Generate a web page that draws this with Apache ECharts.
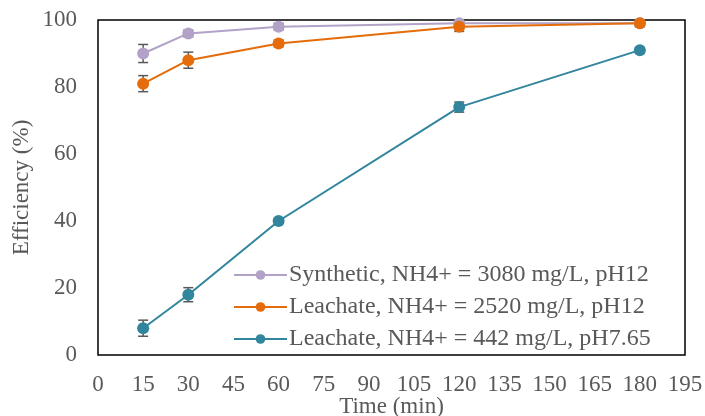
<!DOCTYPE html>
<html>
<head>
<meta charset="utf-8">
<script src="https://cdn.jsdelivr.net/npm/echarts@6/dist/echarts.min.js"></script>
<style>
  html, body { margin: 0; padding: 0; background: #fff; }
  #chart { width: 705px; height: 416px; }
</style>
</head>
<body>
<div id="chart"></div>
<script>
// data
const times = [15, 30, 60, 120, 180]
const synthetic = [90, 96, 98, 99, 99]
const syntheticErr = [2.7, 1, 1, 0.5, 0.5]
const leach2520 = [81, 88, 93, 98, 99]
const leach2520Err = [2.4, 2.4, 1, 1.4, 1]
const leach442 = [8, 18, 40, 74, 91]
const leach442Err = [2.4, 2.1, 0.8, 1.5, 0.8]
const xTicks = [0, 15, 30, 45, 60, 75, 90, 105, 120, 135, 150, 165, 180, 195]

const names = [
  'Synthetic, NH4+ = 3080 mg/L, pH12',
  'Leachate, NH4+ = 2520 mg/L, pH12',
  'Leachate, NH4+ = 442 mg/L, pH7.65'
]
const colors = ['#B3A2C7', '#E46C0A', '#31859C']
const textColor = '#595959'
const font = '"Liberation Serif", "Times New Roman", serif'
const fs = 23

function pts(vals) {
  return times.map((t, i) => [t, vals[i]])
}

// error bars as custom series
function errorBars(vals, errs) {
  return {
    type: 'custom',
    silent: true,
    z: 1,
    data: times.map((t, i) => [t, vals[i] - errs[i], vals[i] + errs[i]]),
    renderItem: (params, api) => {
      const lo = api.coord([api.value(0), api.value(1)])
      const hi = api.coord([api.value(0), api.value(2)])
      const half = 5
      const style = { stroke: textColor, lineWidth: 1.5 }
      return {
        type: 'group',
        children: [
          { type: 'line', shape: { x1: lo[0], y1: lo[1], x2: hi[0], y2: hi[1] }, style },
          { type: 'line', shape: { x1: lo[0] - half, y1: lo[1], x2: lo[0] + half, y2: lo[1] }, style },
          { type: 'line', shape: { x1: hi[0] - half, y1: hi[1], x2: hi[0] + half, y2: hi[1] }, style }
        ]
      }
    }
  }
}

function lineSeries(idx, vals) {
  return {
    name: names[idx],
    type: 'line',
    z: 2,
    data: pts(vals),
    symbol: 'circle',
    symbolSize: 12,
    lineStyle: { color: colors[idx], width: 2 },
    itemStyle: { color: colors[idx] },
    emphasis: { disabled: true }
  }
}

const chart = echarts.init(document.getElementById('chart'))

const option = {
  animation: false,
  backgroundColor: '#fff',
  textStyle: { fontFamily: font },
  grid: {
    left: 98, top: 20, right: 20, bottom: 61,
    outerBoundsMode: 'none',
    show: true, borderColor: '#000', borderWidth: 1.5
  },
  legend: {
    orient: 'vertical',
    left: 228,
    top: 258,
    itemWidth: 53,
    itemHeight: 12,
    itemGap: 8,
    textStyle: { color: textColor, fontSize: 24, lineHeight: 24, fontFamily: font, padding: [0, 0, 0, -3] },
    data: names
  },
  xAxis: {
    type: 'value',
    min: 0,
    max: 195,
    interval: 15,
    name: 'Time (min)',
    nameLocation: 'middle',
    nameGap: 40,
    nameMoveOverlap: false,
    nameTextStyle: { color: textColor, fontSize: fs, fontFamily: font },
    axisLine: { show: false },
    axisTick: { show: false },
    splitLine: { show: false },
    axisLabel: {
      color: textColor, fontSize: fs, fontFamily: font, margin: 18,
      customValues: xTicks
    }
  },
  yAxis: {
    type: 'value',
    min: 0,
    max: 100,
    interval: 20,
    name: 'Efficiency (%)',
    nameLocation: 'middle',
    nameGap: 65,
    nameMoveOverlap: false,
    nameTextStyle: { color: textColor, fontSize: fs, fontFamily: font },
    axisLine: { show: false },
    axisTick: { show: false },
    splitLine: { show: false },
    axisLabel: { color: textColor, fontSize: fs, fontFamily: font, margin: 21 }
  },
  series: [
    errorBars(synthetic, syntheticErr),
    errorBars(leach2520, leach2520Err),
    errorBars(leach442, leach442Err),
    lineSeries(0, synthetic),
    lineSeries(1, leach2520),
    lineSeries(2, leach442)
  ]
}
chart.setOption(option)
</script>
</body>
</html>
